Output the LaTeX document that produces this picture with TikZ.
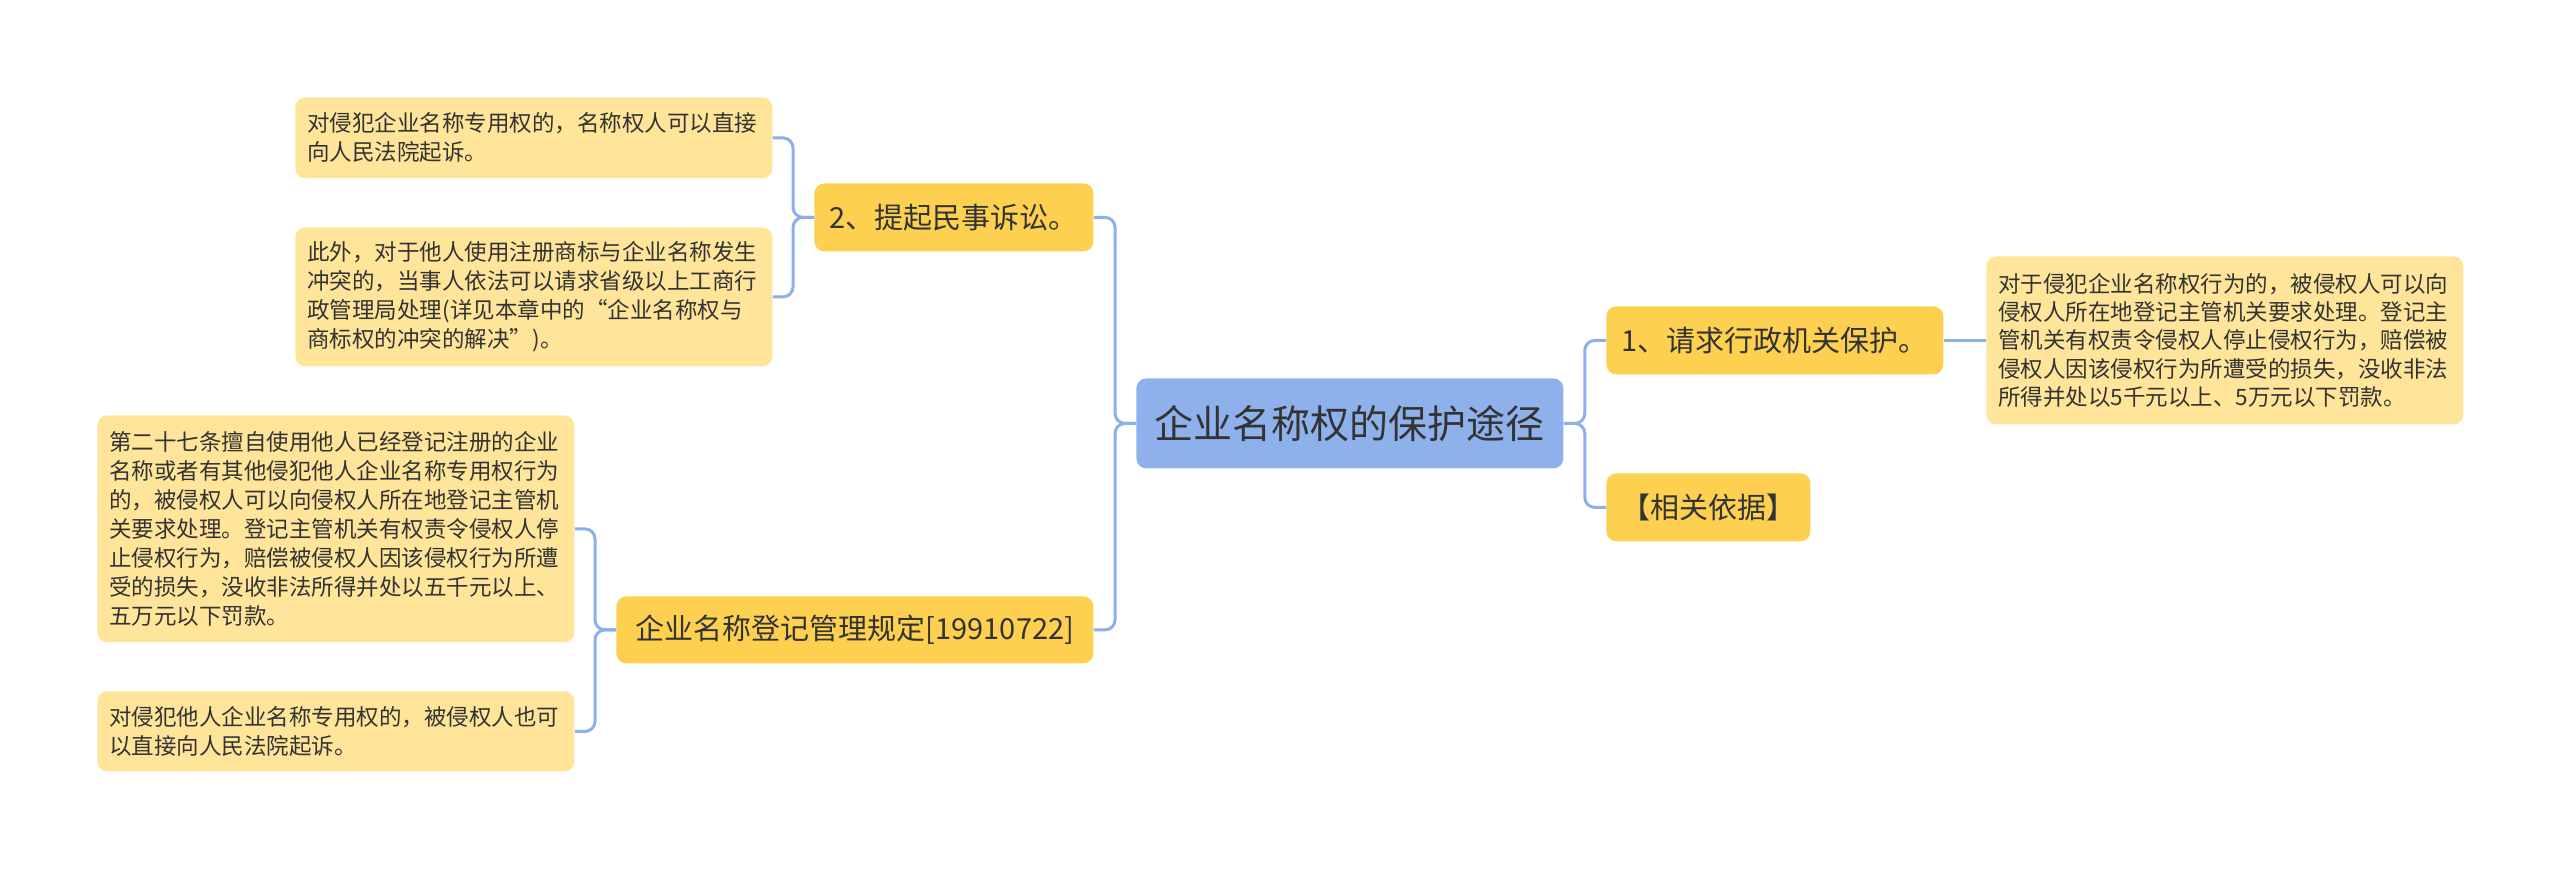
\documentclass[tikz,border=0pt]{standalone}
\usepackage{fontspec}
\setmainfont{Noto Sans CJK SC}
\definecolor{rootc}{HTML}{8FB1EB}
\definecolor{childc}{HTML}{FDD14F}
\definecolor{leafc}{HTML}{FFE599}
\definecolor{linec}{HTML}{8EB0E8}
\definecolor{txt}{HTML}{333333}
\begin{document}
\begin{tikzpicture}[x=0.5pt,y=-0.5pt,
  base/.style={rounded corners=5pt, inner sep=0pt, text=txt, anchor=north west},
  sz/.style 2 args={minimum width=#1*0.5pt, minimum height=#2*0.5pt},
  rootbox/.style={base, fill=rootc, align=center, font=\fontsize{19.5pt}{23pt}\selectfont},
  childbox/.style={base, fill=childc, align=center, font=\fontsize{14.5pt}{17pt}\selectfont},
  leafbox/.style={base, fill=leafc, align=left, text width=226.5pt, inner xsep=6pt, font=\fontsize{11.25pt}{14.5pt}\selectfont},
  conn/.style={draw=linec, line width=1.5pt, rounded corners=5pt}
]
\useasboundingbox[fill=white] (0,0) rectangle (2560,869);

% root
\node[rootbox, sz={427}{90}] (root) at (1136,378) {企业名称权的保护途径};

% right side
\node[childbox, sz={337}{68}] (c1) at (1606,306) {1、请求行政机关保护。};
\node[childbox, sz={204}{68}] (c2) at (1606,473) {【相关依据】};
\node[leafbox, minimum height=84pt, font=\fontsize{11.25pt}{14.2pt}\selectfont] (r1) at (1986,256) {对于侵犯企业名称权行为的，被侵权人可以向\\侵权人所在地登记主管机关要求处理。登记主\\管机关有权责令侵权人停止侵权行为，赔偿被\\侵权人因该侵权行为所遭受的损失，没收非法\\所得并处以5千元以上、5万元以下罚款。};

% left side
\node[childbox, sz={279}{68}] (ca) at (814,183) {2、提起民事诉讼。};
\node[childbox, sz={477}{67}] (cb) at (616,596) {企业名称登记管理规定[19910722]};

\node[leafbox, minimum height=40.5pt] (a1) at (295,97) {对侵犯企业名称专用权的，名称权人可以直接\\向人民法院起诉。};
\node[leafbox, minimum height=69.5pt] (a2) at (295,227) {此外，对于他人使用注册商标与企业名称发生\\冲突的，当事人依法可以请求省级以上工商行\\政管理局处理(详见本章中的“企业名称权与\\商标权的冲突的解决”)。};

\node[leafbox, minimum height=113.5pt] (b1) at (97,415) {第二十七条擅自使用他人已经登记注册的企业\\名称或者有其他侵犯他人企业名称专用权行为\\的，被侵权人可以向侵权人所在地登记主管机\\关要求处理。登记主管机关有权责令侵权人停\\止侵权行为，赔偿被侵权人因该侵权行为所遭\\受的损失，没收非法所得并处以五千元以上、\\五万元以下罚款。};
\node[leafbox, minimum height=40pt] (b2) at (97,691) {对侵犯他人企业名称专用权的，被侵权人也可\\以直接向人民法院起诉。};

% connectors
\draw[conn] (root.west) -- ++(-21,0) |- (ca.east);
\draw[conn] (root.west) -- ++(-21,0) |- (cb.east);
\draw[conn] (root.east) -- ++(21,0) |- (c1.west);
\draw[conn] (root.east) -- ++(21,0) |- (c2.west);
\draw[conn] (c1.east) -- (r1.west);
\draw[conn] (ca.west) -- ++(-21,0) |- (a1.east);
\draw[conn] (ca.west) -- ++(-21,0) |- (a2.east);
\draw[conn] (cb.west) -- ++(-21,0) |- (b1.east);
\draw[conn] (cb.west) -- ++(-21,0) |- (b2.east);
\end{tikzpicture}
\end{document}
